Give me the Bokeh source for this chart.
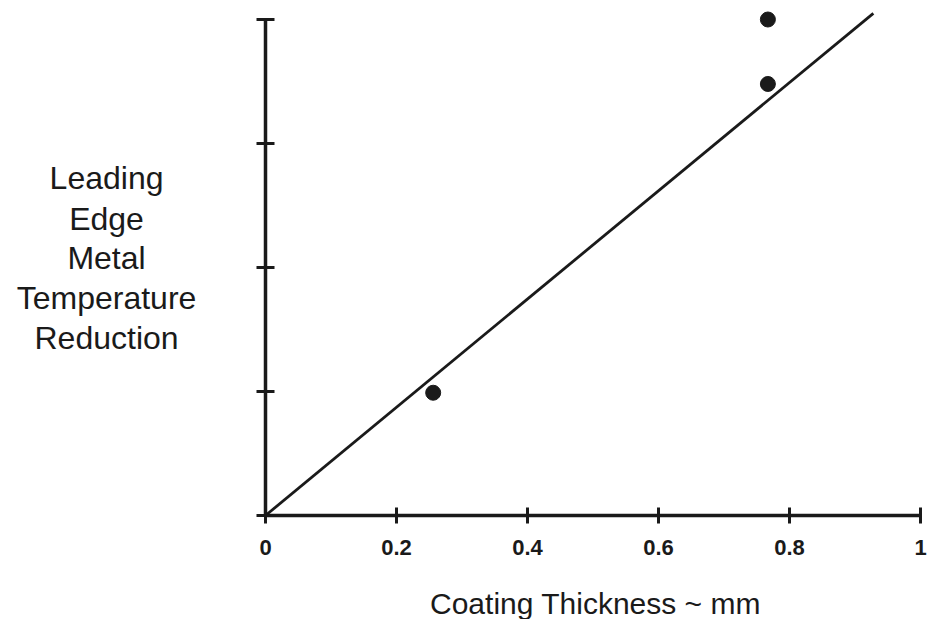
from bokeh.plotting import figure
from bokeh.models import FixedTicker, Range1d, ColumnDataSource
from bokeh.core.properties import value
from bokeh.embed import file_html
from bokeh.resources import INLINE

# data
thickness = [0.256, 0.767, 0.767]
reduction = [0.99, 3.48, 4.0]
fit_x = [0.0, 0.928]
fit_y = [0.0, 4.05]
x_ticks = [0, 0.2, 0.4, 0.6, 0.8, 1.0]
x_tick_labels = ["0", "0.2", "0.4", "0.6", "0.8", "1"]
y_ticks = [0, 1, 2, 3, 4]
y_title_lines = ["Leading", "Edge", "Metal", "Temperature", "Reduction"]
x_title = "Coating Thickness ~ mm"

FONT = "Liberation Sans"
INK = "#1a1a1a"

W, H = 928, 619
PX_PER_X = 655.0
PX_PER_Y = 124.0
ORIGIN_X = 265.0   # canvas px of x = 0
ORIGIN_Y = 515.0   # canvas px (from top) of y = 0

p = figure(width=W, height=H, output_backend="svg", toolbar_location=None,
           x_range=Range1d(-ORIGIN_X / PX_PER_X, (W - ORIGIN_X) / PX_PER_X),
           y_range=Range1d(-(H - ORIGIN_Y) / PX_PER_Y, ORIGIN_Y / PX_PER_Y),
           min_border_left=0, min_border_right=0, min_border_top=0,
           min_border_bottom=0)
p.background_fill_color = "white"
p.border_fill_color = "white"
p.outline_line_color = None
p.xgrid.visible = False
p.ygrid.visible = False

# x axis, placed at y = 0 inside the frame
xa = p.xaxis[0]
xa.fixed_location = 0
xa.ticker = FixedTicker(ticks=x_ticks)
xa.major_label_overrides = {t: l for t, l in zip(x_ticks, x_tick_labels)}
xa.bounds = (0, 1)
xa.axis_line_width = 3.5
xa.axis_line_color = INK
xa.major_tick_line_width = 3
xa.major_tick_line_color = INK
xa.major_tick_in = 8
xa.major_tick_out = 8
xa.minor_tick_line_color = None
xa.major_label_text_font = FONT
xa.major_label_text_font_size = "22px"
xa.major_label_text_font_style = "bold"
xa.major_label_text_color = INK
xa.major_label_standoff = 16

# y axis, placed at x = 0 inside the frame
ya = p.yaxis[0]
ya.fixed_location = 0
ya.ticker = FixedTicker(ticks=y_ticks)
ya.major_label_overrides = {t: "" for t in y_ticks}
ya.bounds = (0, 4)
ya.axis_line_width = 3.5
ya.axis_line_color = INK
ya.major_tick_line_width = 3
ya.major_tick_line_color = INK
ya.major_tick_in = 9
ya.major_tick_out = 9
ya.minor_tick_line_color = None

# y title as horizontal stacked text
title_src = ColumnDataSource(dict(
    text=y_title_lines,
    x=[-0.2427] * len(y_title_lines),
    y=[2.718, 2.395, 2.073, 1.758, 1.435],
))
p.text(x="x", y="y", text="text", source=title_src, text_align="center",
       text_baseline="alphabetic", text_font=value(FONT),
       text_font_size="32px", text_color=INK)

# x title
p.text(x=[0.5038], y=[-0.71], text=[x_title], text_align="center",
       text_baseline="alphabetic", text_font=value(FONT),
       text_font_size="30px", text_color=INK)

p.line(fit_x, fit_y, line_width=2.8, line_color=INK)
p.scatter(thickness, reduction, size=15, color=INK)

open("out.html", "w").write(file_html(p, INLINE))
